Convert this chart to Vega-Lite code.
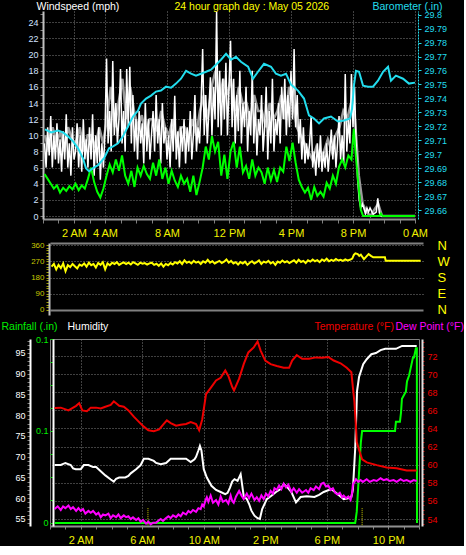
{
"$schema":"https://vega.github.io/schema/vega-lite/v6.json",
"background":"#000000",
"padding":{"left":0,"top":1,"right":0,"bottom":0},
"bounds":"flush",
"spacing":24,
"config":{"view":{"stroke":null},"font":"Liberation Sans","axis":{"labelFont":"Liberation Sans","titleFont":"Liberation Sans","titleFontWeight":"normal","labelOverlap":false,"labelFlush":false,"labelBound":false,"grid":false}},
"datasets":{
"gray":[{"h":0.125,"v":10},{"h":0.375,"v":8},{"h":0.625,"v":11},{"h":0.875,"v":9},{"h":1.125,"v":10.5},{"h":1.375,"v":8},{"h":1.625,"v":11},{"h":1.875,"v":9.5},{"h":2.125,"v":9},{"h":2.375,"v":11},{"h":2.625,"v":8},{"h":2.875,"v":10},{"h":3.125,"v":10},{"h":3.375,"v":8.5},{"h":3.625,"v":11},{"h":3.875,"v":9},{"h":4.125,"v":12},{"h":4.375,"v":16},{"h":4.625,"v":11},{"h":4.875,"v":14},{"h":5.125,"v":17},{"h":5.375,"v":12},{"h":5.625,"v":16},{"h":5.875,"v":13},{"h":6.125,"v":11},{"h":6.375,"v":12.5},{"h":6.625,"v":10},{"h":6.875,"v":12},{"h":7.125,"v":12},{"h":7.375,"v":10.5},{"h":7.625,"v":13},{"h":7.875,"v":11},{"h":8.125,"v":10},{"h":8.375,"v":12},{"h":8.625,"v":9},{"h":8.875,"v":11},{"h":9.125,"v":11},{"h":9.375,"v":9.5},{"h":9.625,"v":12},{"h":9.875,"v":10},{"h":10.125,"v":13},{"h":10.375,"v":15},{"h":10.625,"v":12},{"h":10.875,"v":16},{"h":11.125,"v":18},{"h":11.375,"v":14},{"h":11.625,"v":17},{"h":11.875,"v":15},{"h":12.125,"v":17},{"h":12.375,"v":13},{"h":12.625,"v":16},{"h":12.875,"v":14},{"h":13.125,"v":14},{"h":13.375,"v":12},{"h":13.625,"v":15},{"h":13.875,"v":13},{"h":14.125,"v":13},{"h":14.375,"v":11},{"h":14.625,"v":14},{"h":14.875,"v":12},{"h":15.125,"v":13},{"h":15.375,"v":15},{"h":15.625,"v":12},{"h":15.875,"v":16},{"h":16.125,"v":14},{"h":16.375,"v":11},{"h":16.625,"v":10},{"h":16.875,"v":9},{"h":17.125,"v":8},{"h":17.375,"v":7},{"h":17.625,"v":8.5},{"h":17.875,"v":7},{"h":18.125,"v":8},{"h":18.375,"v":9.5},{"h":18.625,"v":8},{"h":18.875,"v":10},{"h":19.125,"v":11},{"h":19.375,"v":13},{"h":19.625,"v":12},{"h":19.875,"v":14},{"h":20.125,"v":12},{"h":20.375,"v":5},{"h":20.625,"v":1.5},{"h":20.875,"v":0.5},{"h":21.125,"v":0},{"h":21.375,"v":0.8},{"h":21.625,"v":1.5},{"h":21.875,"v":0},{"h":24,"v":0}],
"white":[{"h":0.1,"v":9},{"h":0.2,"v":6},{"h":0.3,"v":11},{"h":0.4,"v":7.5},{"h":0.5,"v":12.4},{"h":0.6,"v":6},{"h":0.7,"v":10},{"h":0.8,"v":7},{"h":0.9,"v":11.5},{"h":1.0,"v":6.5},{"h":1.1,"v":9.5},{"h":1.2,"v":5.5},{"h":1.3,"v":10.5},{"h":1.4,"v":7},{"h":1.5,"v":12.6},{"h":1.6,"v":6},{"h":1.7,"v":9},{"h":1.8,"v":5},{"h":1.9,"v":11},{"h":2.0,"v":7},{"h":2.1,"v":8},{"h":2.2,"v":11.5},{"h":2.3,"v":6},{"h":2.4,"v":10},{"h":2.5,"v":5.5},{"h":2.6,"v":12},{"h":2.7,"v":7},{"h":2.8,"v":9.5},{"h":2.9,"v":6},{"h":3.0,"v":11},{"h":3.1,"v":7},{"h":3.2,"v":12.6},{"h":3.3,"v":5},{"h":3.4,"v":10},{"h":3.5,"v":6.5},{"h":3.6,"v":11},{"h":3.7,"v":4.5},{"h":3.8,"v":9},{"h":3.9,"v":6},{"h":4.0,"v":10.5},{"h":4.1,"v":19.5},{"h":4.2,"v":9},{"h":4.3,"v":13},{"h":4.4,"v":8},{"h":4.5,"v":19.2},{"h":4.6,"v":10},{"h":4.7,"v":14},{"h":4.8,"v":9},{"h":4.9,"v":12},{"h":5.0,"v":18.2},{"h":5.1,"v":9},{"h":5.2,"v":13},{"h":5.3,"v":8},{"h":5.4,"v":18.2},{"h":5.5,"v":11},{"h":5.6,"v":18.5},{"h":5.7,"v":9},{"h":5.8,"v":15},{"h":5.9,"v":8},{"h":6.0,"v":12},{"h":6.1,"v":7},{"h":6.2,"v":13},{"h":6.3,"v":9},{"h":6.4,"v":11.5},{"h":6.5,"v":6.5},{"h":6.6,"v":14},{"h":6.7,"v":8},{"h":6.8,"v":12},{"h":6.9,"v":7},{"h":7.0,"v":10},{"h":7.1,"v":13},{"h":7.2,"v":8},{"h":7.3,"v":15},{"h":7.4,"v":9},{"h":7.5,"v":12},{"h":7.6,"v":6.5},{"h":7.7,"v":14},{"h":7.8,"v":9},{"h":7.9,"v":11},{"h":8.0,"v":7},{"h":8.1,"v":10},{"h":8.2,"v":6},{"h":8.3,"v":12},{"h":8.4,"v":8},{"h":8.5,"v":14.9},{"h":8.6,"v":7},{"h":8.7,"v":10.5},{"h":8.8,"v":6},{"h":8.9,"v":11},{"h":9.0,"v":8},{"h":9.1,"v":12},{"h":9.2,"v":6.5},{"h":9.3,"v":11},{"h":9.4,"v":8},{"h":9.5,"v":13},{"h":9.6,"v":7},{"h":9.7,"v":10},{"h":9.8,"v":15},{"h":9.9,"v":8},{"h":10.0,"v":11},{"h":10.1,"v":9},{"h":10.2,"v":14},{"h":10.3,"v":20.7},{"h":10.4,"v":10},{"h":10.5,"v":15},{"h":10.6,"v":9},{"h":10.7,"v":13},{"h":10.8,"v":17.2},{"h":10.9,"v":10},{"h":11.0,"v":16},{"h":11.1,"v":12},{"h":11.2,"v":25.3},{"h":11.3,"v":11},{"h":11.4,"v":18},{"h":11.5,"v":10},{"h":11.6,"v":17},{"h":11.7,"v":12},{"h":11.8,"v":19},{"h":11.9,"v":10},{"h":12.0,"v":16},{"h":12.1,"v":21.7},{"h":12.2,"v":11},{"h":12.3,"v":17},{"h":12.4,"v":9},{"h":12.5,"v":15},{"h":12.6,"v":10.5},{"h":12.7,"v":18},{"h":12.8,"v":9},{"h":12.9,"v":14},{"h":13.0,"v":11},{"h":13.1,"v":16},{"h":13.2,"v":8},{"h":13.3,"v":13},{"h":13.4,"v":10},{"h":13.5,"v":18},{"h":13.6,"v":9},{"h":13.7,"v":14},{"h":13.8,"v":7.5},{"h":13.9,"v":12},{"h":14.0,"v":10},{"h":14.1,"v":15},{"h":14.2,"v":8},{"h":14.3,"v":11},{"h":14.4,"v":16},{"h":14.5,"v":7},{"h":14.6,"v":13},{"h":14.7,"v":9},{"h":14.8,"v":17},{"h":14.9,"v":8},{"h":15.0,"v":12},{"h":15.1,"v":10},{"h":15.2,"v":14},{"h":15.3,"v":9},{"h":15.4,"v":16},{"h":15.5,"v":12},{"h":15.6,"v":17},{"h":15.7,"v":10},{"h":15.8,"v":15},{"h":15.9,"v":11},{"h":16.0,"v":18},{"h":16.1,"v":12},{"h":16.2,"v":20.7},{"h":16.3,"v":11},{"h":16.4,"v":15},{"h":16.5,"v":9},{"h":16.6,"v":12},{"h":16.7,"v":7},{"h":16.8,"v":11},{"h":16.9,"v":6.5},{"h":17.0,"v":9},{"h":17.1,"v":7},{"h":17.2,"v":9},{"h":17.3,"v":12.4},{"h":17.4,"v":6},{"h":17.5,"v":8},{"h":17.6,"v":5},{"h":17.7,"v":9},{"h":17.8,"v":6},{"h":17.9,"v":10},{"h":18.0,"v":5.5},{"h":18.1,"v":8},{"h":18.2,"v":6},{"h":18.3,"v":9},{"h":18.4,"v":5.5},{"h":18.5,"v":8},{"h":18.6,"v":10.7},{"h":18.7,"v":7},{"h":18.8,"v":10},{"h":18.9,"v":6},{"h":19.0,"v":9},{"h":19.1,"v":12.4},{"h":19.2,"v":7},{"h":19.3,"v":10},{"h":19.4,"v":6.5},{"h":19.5,"v":17.6},{"h":19.6,"v":8},{"h":19.7,"v":12},{"h":19.8,"v":9},{"h":19.9,"v":17.6},{"h":20.0,"v":11},{"h":20.1,"v":16},{"h":20.2,"v":9},{"h":20.3,"v":4.5},{"h":20.4,"v":2},{"h":20.5,"v":1},{"h":20.6,"v":1.5},{"h":20.7,"v":1},{"h":20.8,"v":0.3},{"h":20.9,"v":1},{"h":21.0,"v":0.5},{"h":21.1,"v":1},{"h":21.3,"v":0.2},{"h":21.5,"v":0.5},{"h":21.6,"v":2.2},{"h":21.7,"v":0.4},{"h":21.8,"v":0},{"h":24,"v":0}],
"green":[{"h":0.1,"v":5.2},{"h":0.3,"v":4.6},{"h":0.5,"v":4.0},{"h":0.7,"v":3.4},{"h":0.9,"v":3.8},{"h":1.1,"v":2.9},{"h":1.3,"v":3.5},{"h":1.5,"v":3.1},{"h":1.7,"v":3.7},{"h":1.9,"v":3.3},{"h":2.1,"v":4.0},{"h":2.3,"v":3.2},{"h":2.5,"v":3.8},{"h":2.7,"v":3.4},{"h":2.9,"v":4.6},{"h":3.1,"v":6.0},{"h":3.3,"v":4.2},{"h":3.5,"v":3.0},{"h":3.7,"v":2.3},{"h":3.9,"v":3.4},{"h":4.1,"v":5.0},{"h":4.3,"v":6.4},{"h":4.5,"v":5.4},{"h":4.7,"v":7.0},{"h":4.9,"v":5.6},{"h":5.1,"v":7.5},{"h":5.3,"v":5.0},{"h":5.5,"v":4.0},{"h":5.7,"v":5.6},{"h":5.9,"v":3.6},{"h":6.1,"v":6.0},{"h":6.3,"v":5.0},{"h":6.5,"v":6.2},{"h":6.7,"v":5.2},{"h":6.9,"v":4.6},{"h":7.1,"v":6.6},{"h":7.3,"v":5.0},{"h":7.5,"v":7.0},{"h":7.7,"v":4.6},{"h":7.9,"v":6.0},{"h":8.1,"v":4.0},{"h":8.3,"v":5.6},{"h":8.5,"v":4.4},{"h":8.7,"v":3.6},{"h":8.9,"v":5.0},{"h":9.1,"v":4.0},{"h":9.3,"v":4.6},{"h":9.5,"v":3.0},{"h":9.7,"v":5.0},{"h":9.9,"v":2.6},{"h":10.1,"v":4.2},{"h":10.3,"v":6.0},{"h":10.5,"v":8.6},{"h":10.7,"v":7.0},{"h":10.9,"v":9.9},{"h":11.1,"v":8.0},{"h":11.3,"v":9.2},{"h":11.5,"v":5.0},{"h":11.7,"v":7.6},{"h":11.9,"v":4.6},{"h":12.1,"v":8.0},{"h":12.3,"v":9.2},{"h":12.5,"v":6.0},{"h":12.7,"v":8.6},{"h":12.9,"v":5.4},{"h":13.1,"v":6.2},{"h":13.3,"v":4.6},{"h":13.5,"v":7.0},{"h":13.7,"v":5.0},{"h":13.9,"v":6.0},{"h":14.1,"v":5.4},{"h":14.3,"v":4.0},{"h":14.5,"v":6.0},{"h":14.7,"v":4.4},{"h":14.9,"v":5.7},{"h":15.1,"v":4.2},{"h":15.3,"v":6.0},{"h":15.5,"v":5.5},{"h":15.7,"v":8.6},{"h":15.9,"v":6.8},{"h":16.1,"v":9.1},{"h":16.3,"v":6.6},{"h":16.5,"v":4.5},{"h":16.7,"v":3.6},{"h":16.9,"v":2.9},{"h":17.1,"v":3.5},{"h":17.3,"v":2.0},{"h":17.5,"v":3.6},{"h":17.7,"v":2.5},{"h":17.9,"v":3.0},{"h":18.1,"v":2.4},{"h":18.3,"v":4.1},{"h":18.5,"v":3.4},{"h":18.7,"v":5.0},{"h":18.9,"v":4.0},{"h":19.1,"v":6.1},{"h":19.3,"v":7.0},{"h":19.5,"v":6.0},{"h":19.7,"v":7.5},{"h":19.9,"v":7.0},{"h":20.05,"v":10.8},{"h":20.2,"v":7.0},{"h":20.32,"v":4.5},{"h":20.5,"v":0.8},{"h":20.65,"v":0},{"h":21.7,"v":0},{"h":21.8,"v":0.3},{"h":21.9,"v":0},{"h":24,"v":0}],
"baro":[{"h":0.13,"v":29.7178},{"h":0.52,"v":29.7156},{"h":0.97,"v":29.717},{"h":1.29,"v":29.7156},{"h":1.61,"v":29.7128},{"h":1.94,"v":29.7092},{"h":2.26,"v":29.7042},{"h":2.58,"v":29.6971},{"h":2.77,"v":29.69},{"h":2.97,"v":29.6878},{"h":3.23,"v":29.69},{"h":3.55,"v":29.6921},{"h":3.94,"v":29.6971},{"h":4.26,"v":29.7042},{"h":4.52,"v":29.7056},{"h":4.84,"v":29.7078},{"h":5.16,"v":29.7128},{"h":5.48,"v":29.7199},{"h":5.81,"v":29.727},{"h":6.13,"v":29.7313},{"h":6.32,"v":29.7363},{"h":6.65,"v":29.7399},{"h":6.97,"v":29.742},{"h":7.29,"v":29.7449},{"h":7.61,"v":29.7456},{"h":7.94,"v":29.7484},{"h":8.26,"v":29.7477},{"h":8.58,"v":29.7506},{"h":8.9,"v":29.7541},{"h":9.23,"v":29.7598},{"h":9.55,"v":29.7577},{"h":9.87,"v":29.7563},{"h":10.19,"v":29.7577},{"h":10.52,"v":29.7591},{"h":10.84,"v":29.7606},{"h":11.16,"v":29.7641},{"h":11.48,"v":29.7677},{"h":11.81,"v":29.772},{"h":12.13,"v":29.7677},{"h":12.45,"v":29.7698},{"h":12.77,"v":29.7663},{"h":13.23,"v":29.7627},{"h":13.55,"v":29.7541},{"h":13.87,"v":29.7591},{"h":14.26,"v":29.7648},{"h":14.71,"v":29.7627},{"h":15.03,"v":29.7577},{"h":15.35,"v":29.7563},{"h":15.68,"v":29.7577},{"h":16.0,"v":29.7499},{"h":16.45,"v":29.7456},{"h":16.84,"v":29.7399},{"h":17.16,"v":29.7278},{"h":17.48,"v":29.7256},{"h":17.81,"v":29.7221},{"h":18.13,"v":29.7256},{"h":18.58,"v":29.727},{"h":19.03,"v":29.7234},{"h":19.42,"v":29.7242},{"h":19.81,"v":29.7256},{"h":19.94,"v":29.7327},{"h":20.06,"v":29.7491},{"h":20.19,"v":29.7598},{"h":20.39,"v":29.7591},{"h":20.65,"v":29.7491},{"h":20.97,"v":29.7484},{"h":21.29,"v":29.7484},{"h":21.61,"v":29.7527},{"h":21.94,"v":29.7591},{"h":22.26,"v":29.7627},{"h":22.45,"v":29.7527},{"h":22.77,"v":29.7563},{"h":23.23,"v":29.7541},{"h":23.61,"v":29.7506},{"h":24.0,"v":29.7513}],
"dir":[{"h":0.1,"v":240},{"h":0.25,"v":255},{"h":0.4,"v":225},{"h":0.55,"v":250},{"h":0.7,"v":232},{"h":0.85,"v":258},{"h":1.0,"v":215},{"h":1.15,"v":248},{"h":1.3,"v":238},{"h":1.45,"v":255},{"h":1.6,"v":242},{"h":1.75,"v":230},{"h":1.9,"v":252},{"h":2.05,"v":245},{"h":2.2,"v":258},{"h":2.35,"v":240},{"h":2.5,"v":262},{"h":2.65,"v":248},{"h":2.8,"v":255},{"h":2.95,"v":235},{"h":3.1,"v":260},{"h":3.25,"v":250},{"h":3.4,"v":265},{"h":3.55,"v":225},{"h":3.7,"v":258},{"h":3.85,"v":248},{"h":4.0,"v":262},{"h":4.15,"v":255},{"h":4.3,"v":265},{"h":4.45,"v":250},{"h":4.6,"v":258},{"h":4.75,"v":264},{"h":4.9,"v":255},{"h":5.05,"v":262},{"h":5.2,"v":252},{"h":5.35,"v":265},{"h":5.5,"v":258},{"h":5.65,"v":250},{"h":5.8,"v":262},{"h":5.95,"v":256},{"h":6.1,"v":260},{"h":6.25,"v":252},{"h":6.4,"v":258},{"h":6.55,"v":262},{"h":6.7,"v":250},{"h":6.85,"v":256},{"h":7.0,"v":245},{"h":7.15,"v":258},{"h":7.3,"v":240},{"h":7.45,"v":255},{"h":7.6,"v":248},{"h":7.75,"v":260},{"h":7.9,"v":252},{"h":8.05,"v":265},{"h":8.2,"v":258},{"h":8.35,"v":270},{"h":8.5,"v":255},{"h":8.65,"v":275},{"h":8.8,"v":262},{"h":8.95,"v":268},{"h":9.1,"v":258},{"h":9.25,"v":272},{"h":9.4,"v":262},{"h":9.55,"v":268},{"h":9.7,"v":255},{"h":9.85,"v":270},{"h":10.0,"v":262},{"h":10.15,"v":278},{"h":10.3,"v":262},{"h":10.45,"v":270},{"h":10.6,"v":258},{"h":10.75,"v":265},{"h":10.9,"v":272},{"h":11.05,"v":260},{"h":11.2,"v":268},{"h":11.35,"v":280},{"h":11.5,"v":262},{"h":11.65,"v":272},{"h":11.8,"v":258},{"h":11.95,"v":265},{"h":12.1,"v":252},{"h":12.25,"v":266},{"h":12.4,"v":258},{"h":12.55,"v":268},{"h":12.7,"v":250},{"h":12.85,"v":262},{"h":13.0,"v":270},{"h":13.15,"v":258},{"h":13.3,"v":265},{"h":13.45,"v":275},{"h":13.6,"v":255},{"h":13.75,"v":268},{"h":13.9,"v":262},{"h":14.05,"v":272},{"h":14.2,"v":258},{"h":14.35,"v":266},{"h":14.5,"v":250},{"h":14.65,"v":268},{"h":14.8,"v":262},{"h":14.95,"v":274},{"h":15.1,"v":264},{"h":15.25,"v":270},{"h":15.4,"v":260},{"h":15.55,"v":268},{"h":15.7,"v":275},{"h":15.85,"v":262},{"h":16.0,"v":278},{"h":16.15,"v":266},{"h":16.3,"v":272},{"h":16.45,"v":260},{"h":16.6,"v":275},{"h":16.75,"v":268},{"h":16.9,"v":280},{"h":17.05,"v":270},{"h":17.2,"v":276},{"h":17.35,"v":265},{"h":17.5,"v":280},{"h":17.65,"v":272},{"h":17.8,"v":284},{"h":17.95,"v":270},{"h":18.1,"v":278},{"h":18.25,"v":272},{"h":18.4,"v":282},{"h":18.55,"v":274},{"h":18.7,"v":278},{"h":18.85,"v":272},{"h":19.0,"v":280},{"h":19.15,"v":275},{"h":19.3,"v":278},{"h":19.45,"v":285},{"h":19.55,"v":305},{"h":19.65,"v":314},{"h":19.8,"v":310},{"h":19.9,"v":300},{"h":20.0,"v":306},{"h":20.2,"v":282},{"h":20.35,"v":296},{"h":20.5,"v":310},{"h":20.65,"v":300},{"h":20.8,"v":292},{"h":21.55,"v":292},{"h":21.6,"v":273},{"h":23.85,"v":273}],
"hum":[{"h":0.3,"v":68},{"h":0.7,"v":68},{"h":1.0,"v":68.5},{"h":1.35,"v":68},{"h":1.5,"v":67.2},{"h":1.67,"v":67},{"h":2.0,"v":67},{"h":2.2,"v":68},{"h":2.5,"v":68},{"h":2.8,"v":67.5},{"h":3.0,"v":67.5},{"h":3.3,"v":66.5},{"h":3.6,"v":65.5},{"h":3.95,"v":64.5},{"h":4.15,"v":64},{"h":4.3,"v":64.7},{"h":4.5,"v":65},{"h":4.9,"v":65},{"h":5.1,"v":65.4},{"h":5.25,"v":66},{"h":5.6,"v":67},{"h":5.9,"v":68},{"h":6.1,"v":69.5},{"h":6.4,"v":69.5},{"h":6.75,"v":69},{"h":6.9,"v":68.5},{"h":7.2,"v":68.2},{"h":7.55,"v":68.5},{"h":7.85,"v":69.5},{"h":8.4,"v":69.5},{"h":8.85,"v":69.5},{"h":9.15,"v":68.7},{"h":9.4,"v":69.4},{"h":9.5,"v":70},{"h":9.65,"v":71.5},{"h":9.75,"v":72.6},{"h":9.85,"v":71.5},{"h":10.0,"v":67},{"h":10.2,"v":65},{"h":10.5,"v":63},{"h":10.8,"v":62},{"h":11.1,"v":61.5},{"h":11.4,"v":61},{"h":11.55,"v":61.3},{"h":11.7,"v":62.5},{"h":11.85,"v":64},{"h":12.0,"v":64.6},{"h":12.2,"v":64.2},{"h":12.4,"v":65.8},{"h":12.6,"v":60.5},{"h":12.8,"v":59.8},{"h":12.95,"v":58.6},{"h":13.1,"v":57},{"h":13.3,"v":55.8},{"h":13.5,"v":55.2},{"h":13.65,"v":55},{"h":13.8,"v":57.4},{"h":14.1,"v":59.8},{"h":14.4,"v":60.6},{"h":14.7,"v":61.5},{"h":15.0,"v":62.2},{"h":15.2,"v":63.4},{"h":15.45,"v":62.6},{"h":15.7,"v":61.5},{"h":16.0,"v":59},{"h":16.3,"v":60.3},{"h":16.7,"v":60.5},{"h":17.2,"v":60.3},{"h":17.5,"v":60.8},{"h":17.8,"v":61.5},{"h":18.3,"v":62.2},{"h":18.7,"v":61},{"h":19.1,"v":59.8},{"h":19.4,"v":60},{"h":19.6,"v":60.3},{"h":19.7,"v":62},{"h":19.85,"v":72},{"h":19.97,"v":85.8},{"h":20.1,"v":89.2},{"h":20.37,"v":92.3},{"h":20.6,"v":93.5},{"h":20.9,"v":94.7},{"h":21.2,"v":95},{"h":21.5,"v":95.7},{"h":21.8,"v":96},{"h":22.5,"v":96},{"h":22.9,"v":96.7},{"h":23.85,"v":96.7}],
"rain":[{"h":0.3,"v":0},{"h":19.85,"v":0},{"h":19.95,"v":0.012},{"h":20.1,"v":0.055},{"h":20.22,"v":0.088},{"h":20.3,"v":0.1},{"h":22.44,"v":0.1},{"h":22.5,"v":0.11},{"h":22.76,"v":0.11},{"h":22.83,"v":0.12},{"h":22.89,"v":0.135},{"h":23.15,"v":0.143},{"h":23.22,"v":0.154},{"h":23.35,"v":0.16},{"h":23.48,"v":0.17},{"h":23.61,"v":0.18},{"h":23.67,"v":0.18},{"h":23.8,"v":0.19},{"h":23.86,"v":0.19},{"h":23.87,"v":0}],
"temp":[{"h":0.3,"v":66.25},{"h":0.7,"v":66.3},{"h":1.2,"v":66.0},{"h":1.7,"v":66.5},{"h":1.9,"v":66.8},{"h":2.1,"v":66.0},{"h":2.4,"v":65.9},{"h":2.65,"v":66.3},{"h":3.0,"v":66.3},{"h":3.3,"v":66.2},{"h":3.6,"v":66.4},{"h":3.95,"v":66.6},{"h":4.15,"v":67.0},{"h":4.5,"v":66.5},{"h":4.8,"v":66.4},{"h":5.1,"v":66.0},{"h":5.45,"v":65.3},{"h":5.8,"v":64.7},{"h":6.1,"v":64.2},{"h":6.4,"v":63.8},{"h":6.75,"v":63.7},{"h":7.1,"v":63.9},{"h":7.4,"v":64.5},{"h":7.6,"v":64.9},{"h":7.85,"v":64.6},{"h":8.2,"v":64.3},{"h":8.5,"v":64.4},{"h":8.85,"v":64.5},{"h":9.15,"v":64.7},{"h":9.5,"v":64.5},{"h":9.7,"v":63.8},{"h":9.9,"v":65},{"h":10.15,"v":67.8},{"h":10.5,"v":68.6},{"h":10.8,"v":69.3},{"h":11.1,"v":69.6},{"h":11.4,"v":70.4},{"h":11.6,"v":69.8},{"h":11.85,"v":68.6},{"h":11.97,"v":68.2},{"h":12.3,"v":69.5},{"h":12.6,"v":71.1},{"h":12.9,"v":72.4},{"h":13.25,"v":72.95},{"h":13.5,"v":73.6},{"h":13.7,"v":72.6},{"h":14.0,"v":71.5},{"h":14.35,"v":71.1},{"h":14.75,"v":70.9},{"h":15.2,"v":70.7},{"h":15.55,"v":70.7},{"h":15.75,"v":71.5},{"h":16.05,"v":72.1},{"h":16.4,"v":71.7},{"h":16.85,"v":71.7},{"h":17.3,"v":71.85},{"h":17.7,"v":71.8},{"h":18.1,"v":71.9},{"h":18.45,"v":71.5},{"h":18.9,"v":71.2},{"h":19.3,"v":70.7},{"h":19.6,"v":70.2},{"h":19.8,"v":66.9},{"h":19.9,"v":64.2},{"h":19.95,"v":62.5},{"h":20.1,"v":61.65},{"h":20.3,"v":60.6},{"h":20.6,"v":60.25},{"h":21.25,"v":59.95},{"h":21.9,"v":59.7},{"h":22.55,"v":59.6},{"h":23.2,"v":59.35},{"h":23.85,"v":59.35}],
"dew":[{"h":0.3,"v":55.1},{"h":0.5,"v":55.4},{"h":0.7,"v":55.0},{"h":0.85,"v":55.4},{"h":1.0,"v":55.2},{"h":1.2,"v":55.5},{"h":1.35,"v":55.1},{"h":1.5,"v":55.3},{"h":1.7,"v":54.9},{"h":1.85,"v":55.2},{"h":2.0,"v":54.9},{"h":2.15,"v":55.1},{"h":2.3,"v":54.6},{"h":2.5,"v":54.9},{"h":2.65,"v":54.7},{"h":2.8,"v":54.9},{"h":3.0,"v":54.5},{"h":3.15,"v":54.7},{"h":3.3,"v":54.2},{"h":3.45,"v":54.5},{"h":3.6,"v":54.4},{"h":3.8,"v":54.6},{"h":3.95,"v":54.1},{"h":4.1,"v":54.4},{"h":4.3,"v":54.2},{"h":4.45,"v":54.5},{"h":4.6,"v":54.1},{"h":4.8,"v":54.4},{"h":4.95,"v":54.2},{"h":5.1,"v":54.3},{"h":5.25,"v":54.0},{"h":5.4,"v":54.2},{"h":5.6,"v":53.9},{"h":5.75,"v":54.1},{"h":5.9,"v":53.7},{"h":6.05,"v":53.9},{"h":6.25,"v":53.5},{"h":6.4,"v":53.7},{"h":6.55,"v":53.4},{"h":6.7,"v":53.6},{"h":6.9,"v":53.6},{"h":7.05,"v":53.8},{"h":7.2,"v":54.0},{"h":7.35,"v":53.8},{"h":7.55,"v":54.1},{"h":7.7,"v":54.3},{"h":7.85,"v":54.1},{"h":8.0,"v":54.4},{"h":8.2,"v":54.2},{"h":8.35,"v":54.5},{"h":8.5,"v":54.3},{"h":8.65,"v":54.7},{"h":8.85,"v":54.5},{"h":9.0,"v":54.9},{"h":9.15,"v":54.7},{"h":9.3,"v":55.0},{"h":9.5,"v":54.8},{"h":9.65,"v":55.2},{"h":9.8,"v":55.1},{"h":9.9,"v":55.6},{"h":10.0,"v":55.4},{"h":10.1,"v":56.0},{"h":10.2,"v":56.4},{"h":10.3,"v":55.9},{"h":10.45,"v":56.6},{"h":10.6,"v":55.8},{"h":10.8,"v":56.1},{"h":10.95,"v":55.6},{"h":11.1,"v":56.5},{"h":11.25,"v":55.9},{"h":11.45,"v":56.1},{"h":11.6,"v":55.7},{"h":11.75,"v":56.6},{"h":11.85,"v":56.0},{"h":11.95,"v":55.8},{"h":12.1,"v":56.5},{"h":12.3,"v":57.1},{"h":12.45,"v":56.6},{"h":12.6,"v":56.2},{"h":12.8,"v":56.8},{"h":12.95,"v":56.3},{"h":13.1,"v":56.8},{"h":13.3,"v":56.1},{"h":13.45,"v":56.4},{"h":13.6,"v":56.0},{"h":13.75,"v":56.6},{"h":13.9,"v":56.2},{"h":14.05,"v":56.8},{"h":14.2,"v":56.5},{"h":14.35,"v":57.1},{"h":14.5,"v":56.8},{"h":14.6,"v":57.4},{"h":14.75,"v":57.2},{"h":14.9,"v":57.7},{"h":15.05,"v":57.3},{"h":15.2,"v":57.9},{"h":15.35,"v":57.5},{"h":15.5,"v":57.8},{"h":15.7,"v":57.0},{"h":15.85,"v":57.4},{"h":16.05,"v":56.9},{"h":16.2,"v":57.3},{"h":16.4,"v":56.9},{"h":16.65,"v":57.2},{"h":16.8,"v":56.9},{"h":16.95,"v":57.4},{"h":17.15,"v":57.2},{"h":17.3,"v":57.6},{"h":17.5,"v":57.3},{"h":17.65,"v":57.9},{"h":17.8,"v":58.0},{"h":17.95,"v":57.6},{"h":18.1,"v":57.7},{"h":18.25,"v":57.2},{"h":18.4,"v":57.4},{"h":18.55,"v":56.9},{"h":18.7,"v":56.7},{"h":18.85,"v":56.9},{"h":19.0,"v":56.4},{"h":19.1,"v":56.6},{"h":19.25,"v":56.3},{"h":19.4,"v":56.5},{"h":19.55,"v":56.1},{"h":19.65,"v":56.9},{"h":19.7,"v":57.8},{"h":19.8,"v":58.1},{"h":19.9,"v":58.4},{"h":20.05,"v":58.1},{"h":20.2,"v":58.3},{"h":20.35,"v":58.1},{"h":20.6,"v":58.4},{"h":20.8,"v":58.1},{"h":21.05,"v":58.3},{"h":21.25,"v":58.2},{"h":21.5,"v":58.5},{"h":21.7,"v":58.3},{"h":21.9,"v":58.4},{"h":22.1,"v":58.2},{"h":22.35,"v":58.3},{"h":22.55,"v":58.1},{"h":22.8,"v":58.4},{"h":23.0,"v":58.2},{"h":23.2,"v":58.3},{"h":23.45,"v":58.1},{"h":23.65,"v":58.3},{"h":23.85,"v":58.2}],
"sun":[{"h":6.37,"event":"sunrise"},{"h":20.3,"event":"sunset"}]
},
"vconcat":[
{
"width":365,"height":208,
"encoding":{"x":{"field":"h","type":"quantitative","scale":{"domain":[0,24],"range":[-7,365]},
 "axis":{"orient":"bottom","values":[0,1,2,3,4,5,6,7,8,9,10,11,12,13,14,15,16,17,18,19,20,21,22,23,24],
 "labelExpr":"indexof([2,4,8,12,16,20,24], datum.value) >= 0 ? (datum.value % 12 == 0 ? (datum.value == 12 ? '12 PM' : '0 AM') : (datum.value % 12) + (datum.value < 12 ? ' AM' : ' PM')) : ''",
 "labelColor":"#f0f000","labelFontSize":11,"labelBaseline":"top","labelPadding":4,"tickColor":"#808080","tickSize":4,"domainColor":"#909090","domainWidth":2,
 "grid":true,"gridColor":"#808080","gridDash":[1,2],"gridOpacity":{"condition":{"test":"indexof([2,4,8,12,16,20,24], datum.value) >= 0","value":1},"value":0},
 "title":"24 hour graph day : May 05 2026","titleColor":"#ffff00","titleFontSize":10.5,"titleAlign":"left","titleBaseline":"alphabetic","titleAngle":0,"titleX":124,"titleY":-210}}},
"layer":[
 {"layer":[
   {"data":{"name":"gray"},"mark":{"type":"line","color":"#9a9a9a","strokeWidth":2.5}},
   {"data":{"name":"white"},"mark":{"type":"line","color":"#ffffff","strokeWidth":1.5}},
   {"data":{"name":"green"},"mark":{"type":"line","color":"#00ff00","strokeWidth":2}}
  ],
  "encoding":{"y":{"field":"v","type":"quantitative","scale":{"domain":[-0.37,25.4],"nice":false,"zero":false},
   "axis":{"orient":"left","offset":7,"values":[0,1,2,3,4,5,6,7,8,9,10,11,12,13,14,15,16,17,18,19,20,21,22,23,24,25],
   "labelExpr":"datum.value % 2 == 0 ? datum.label : ''","labelColor":"#d0e0ff","labelFontSize":9,"labelPadding":2,
   "tickColor":"#808080","tickSize":3,"domainColor":"#c0c0c0","domainWidth":2,
   "grid":true,"gridColor":"#808080","gridDash":[1,2],"gridOpacity":{"condition":{"test":"datum.value % 2 == 0","value":1},"value":0},
   "title":"Windspeed (mph)","titleColor":"#ffffff","titleFontSize":10.5,"titleAngle":0,"titleAlign":"left","titleBaseline":"alphabetic","titleX":-7,"titleY":-2}}}
 },
 {"data":{"name":"baro"},"mark":{"type":"line","color":"#22ddee","strokeWidth":2},
  "encoding":{"y":{"field":"v","type":"quantitative","scale":{"domain":[29.65355,29.80265],"nice":false,"zero":false},
   "axis":{"orient":"right","offset":3,"values":[29.66,29.67,29.68,29.69,29.7,29.71,29.72,29.73,29.74,29.75,29.76,29.77,29.78,29.79,29.8],
   "format":".2~f","labelColor":"#22ddee","labelFontSize":9,"labelPadding":3,"tickColor":"#22ddee","tickSize":3,"domainColor":"#22ddee","domainDash":[2,1],
   "title":"Barometer (.in)","titleColor":"#22ddee","titleFontSize":10.5,"titleAngle":0,"titleAlign":"left","titleBaseline":"alphabetic","titleX":-46,"titleY":-2}}}}
],
"resolve":{"scale":{"y":"independent"}}
},
{
"width":373,"height":72,
"data":{"name":"dir"},
"encoding":{"x":{"field":"h","type":"quantitative","scale":{"domain":[0,24]},"axis":null}},
"layer":[
 {"mark":{"type":"line","color":"#ffff00","strokeWidth":2},
  "encoding":{"y":{"field":"v","type":"quantitative","scale":{"domain":[-27.7,371.1],"nice":false,"zero":false},
   "axis":{"orient":"left","offset":1,"values":[0,15,30,45,60,75,90,105,120,135,150,165,180,195,210,225,240,255,270,285,300,315,330,345,360,371],
   "labelExpr":"datum.value % 90 == 0 ? datum.label : ''","labelColor":"#c8c800","labelFontSize":8,"labelPadding":2,
   "tickColor":"#a0a000","tickSize":3,"tickOpacity":{"condition":{"test":"datum.value > 360","value":0},"value":1},
   "domainColor":"#c0c0c0","domainWidth":2,
   "grid":true,"gridColor":"#808080",
   "gridDash":{"condition":{"test":"datum.value == 0 || datum.value > 360","value":[]},"value":[1,2]},
   "gridWidth":{"condition":{"test":"datum.value == 0 || datum.value > 360","value":2},"value":1},
   "gridOpacity":{"condition":{"test":"datum.value % 90 == 0 || datum.value > 360","value":1},"value":0},
   "title":null}}}},
 {"mark":{"type":"line","color":"#ffff00","strokeOpacity":0},
  "encoding":{"y":{"field":"v","type":"quantitative","scale":{"domain":[-27.7,371.1],"nice":false,"zero":false},
   "axis":{"orient":"right","offset":0,"values":[0,90,180,270,360],
   "labelExpr":"datum.value == 90 ? 'E' : (datum.value == 180 ? 'S' : (datum.value == 270 ? 'W' : 'N'))",
   "labelColor":"#ffff00","labelFontSize":13,"labelPadding":14,"ticks":false,"domain":false,"grid":false,"title":null}}}}
],
"resolve":{"scale":{"y":"independent"}}
},
{
"width":369,"height":187,
"view":{"stroke":"#808080"},
"encoding":{"x":{"field":"h","type":"quantitative","scale":{"domain":[0,24]},
 "axis":{"orient":"bottom","values":[0,1,2,3,4,5,6,7,8,9,10,11,12,13,14,15,16,17,18,19,20,21,22,23,24],
 "labelExpr":"indexof([2,6,10,14,18,22], datum.value) >= 0 ? (datum.value % 12 == 0 ? '12 PM' : (datum.value % 12) + (datum.value < 12 ? ' AM' : ' PM')) : ''",
 "labelColor":"#f0f000","labelFontSize":11,"labelBaseline":"top","labelPadding":5,"tickColor":"#808080","tickSize":3,"domainColor":"#909090","domainWidth":2,
 "grid":true,"gridColor":"#808080","gridDash":[1,2],"gridOpacity":{"condition":{"test":"indexof([2,6,10,14,18,22], datum.value) >= 0","value":1},"value":0},
 "title":"Dew Point (°F)","titleColor":"#ff00ff","titleFontSize":10.5,"titleAlign":"left","titleBaseline":"alphabetic","titleAngle":0,"titleX":345,"titleY":-197}}},
"layer":[
 {"data":{"name":"hum"},"mark":{"type":"line","color":"#ffffff","strokeWidth":2},
  "encoding":{"y":{"field":"v","type":"quantitative","scale":{"domain":[53.31,98.37],"nice":false,"zero":false},
   "axis":{"orient":"left","offset":20,"values":[54,55,56,57,58,59,60,61,62,63,64,65,66,67,68,69,70,71,72,73,74,75,76,77,78,79,80,81,82,83,84,85,86,87,88,89,90,91,92,93,94,95,96,97,98],
   "labelExpr":"datum.value % 5 == 0 ? datum.label : ''","labelColor":"#ffffff","labelFontSize":9,"labelPadding":2,
   "tickColor":"#808080","tickSize":3,"domainColor":"#ffffff","domainWidth":2,
   "title":"Humidity","titleColor":"#ffffff","titleFontSize":10.5,"titleAngle":0,"titleAlign":"left","titleBaseline":"alphabetic","titleX":37,"titleY":-10}}}},
 {"data":{"name":"rain"},"mark":{"type":"line","color":"#00ff00","strokeWidth":2},
  "encoding":{"y":{"field":"v","type":"quantitative","scale":{"domain":[-0.0033,0.2],"nice":false,"zero":false},
   "axis":{"orient":"left","offset":-3,"values":[0,0.025,0.05,0.075,0.1,0.125,0.15,0.175,0.2],
   "labelExpr":"datum.value == 0 ? '0' : ((datum.value == 0.1 || datum.value == 0.2) ? '0.1' : '')","labelColor":"#00ee00","labelFontSize":9,"labelPadding":2,
   "tickColor":"#00cc00","tickSize":3,"domainColor":"#ffffff","domainWidth":2,
   "title":"Rainfall (.in)","titleColor":"#00ee00","titleFontSize":10.5,"titleAngle":0,"titleAlign":"left","titleBaseline":"alphabetic","titleX":-52,"titleY":-10}}}},
 {"data":{"name":"sun"},"mark":{"type":"rule","color":"#d0d000","strokeWidth":1,"strokeDash":[1,1]},
  "encoding":{"y":{"datum":57.6,"scale":{"domain":[53.31,98.37],"nice":false,"zero":false},"axis":null},"y2":{"datum":53.4}}},
 {"layer":[
   {"data":{"name":"temp"},"mark":{"type":"line","color":"#ee0000","strokeWidth":2}},
   {"data":{"name":"dew"},"mark":{"type":"line","color":"#ff00ff","strokeWidth":2}}
  ],
  "encoding":{"y":{"field":"v","type":"quantitative","scale":{"domain":[53.23,73.88],"nice":false,"zero":false},
   "axis":{"orient":"right","offset":3,"values":[53.5,54,54.5,55,55.5,56,56.5,57,57.5,58,58.5,59,59.5,60,60.5,61,61.5,62,62.5,63,63.5,64,64.5,65,65.5,66,66.5,67,67.5,68,68.5,69,69.5,70,70.5,71,71.5,72,72.5,73,73.5],
   "labelExpr":"datum.value % 2 == 0 ? format(datum.value, 'd') : ''","labelColor":"#ee0000","labelFontSize":9,"labelPadding":3,
   "tickColor":"#cc0000","tickSize":2,"domainColor":"#e0e0e0","domainWidth":2,
   "grid":true,"gridColor":"#808080","gridDash":[1,2],"gridOpacity":{"condition":{"test":"datum.value % 2 == 0","value":1},"value":0},
   "title":"Temperature (°F)","titleColor":"#ee0000","titleFontSize":10.5,"titleAngle":0,"titleAlign":"left","titleBaseline":"alphabetic","titleX":-108,"titleY":-10}}}
 }
],
"resolve":{"scale":{"y":"independent"}}
}
]
}
